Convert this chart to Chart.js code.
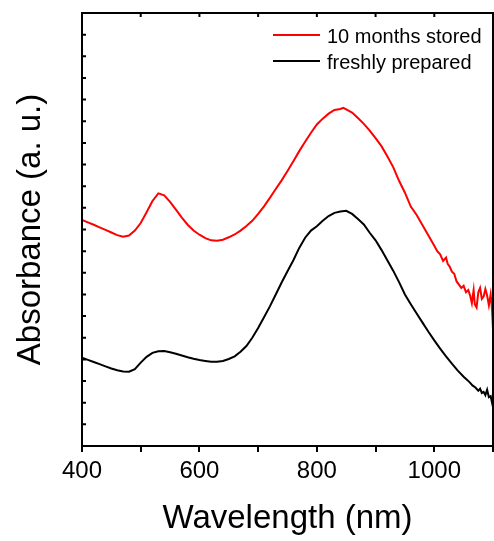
<!DOCTYPE html>
<html>
<head>
<meta charset="utf-8">
<script src="https://cdn.jsdelivr.net/npm/chart.js@4/dist/chart.umd.min.js"></script>
<style>
  html, body { margin: 0; padding: 0; background: #fff; }
  #wrap { width: 494px; height: 541px; }
</style>
</head>
<body>
<div id="wrap"><canvas id="absChart" width="494" height="541"></canvas></div>
<script>
// series labels
var seriesLabels = ['10 months stored', 'freshly prepared'];
var seriesColors = ['#ff0000', '#000000'];

// 10 months stored (red), wavelength in nm / absorbance (a. u.)
var storedWl = [400, 410, 420, 430, 440, 450, 460, 470, 480, 490,
  500, 510, 520, 530, 540, 550, 560, 570, 580, 590,
  600, 610, 620, 630, 640, 650, 660, 670, 680, 690,
  700, 710, 720, 730, 740, 750, 760, 770, 780, 790,
  800, 810, 820, 830, 840, 845, 850, 860, 870, 880, 890,
  900, 910, 920, 930, 940, 950, 960, 970, 980, 990,
  1000, 1005, 1010, 1015, 1020, 1023, 1026, 1030, 1034, 1038,
  1042, 1046, 1050, 1054, 1058, 1061, 1064, 1067, 1069, 1072,
  1075, 1078, 1081, 1084, 1087, 1090, 1093, 1096, 1098, 1100];
var storedAbs = [10.44, 10.33, 10.22, 10.10, 9.98, 9.86, 9.74, 9.67, 9.72, 9.95,
  10.30, 10.80, 11.32, 11.67, 11.58, 11.28, 10.92, 10.55, 10.22, 9.95,
  9.76, 9.60, 9.50, 9.48, 9.53, 9.64, 9.77, 9.95, 10.16, 10.40,
  10.72, 11.07, 11.46, 11.87, 12.27, 12.70, 13.15, 13.62, 14.05, 14.47,
  14.85, 15.12, 15.35, 15.52, 15.57, 15.62, 15.55, 15.40, 15.15, 14.88, 14.57,
  14.22, 13.85, 13.38, 12.88, 12.25, 11.70, 11.06, 10.67, 10.20, 9.72,
  9.25, 9.00, 8.85, 8.55, 8.70, 8.40, 8.30, 8.05, 7.95, 7.60,
  7.45, 7.30, 7.40, 7.10, 7.20, 6.95, 6.60, 7.20, 6.55, 6.40,
  7.10, 7.30, 6.80, 6.90, 7.25, 6.95, 6.50, 7.00, 6.45, 5.40];

// freshly prepared (black)
var freshWl = [400, 410, 420, 430, 440, 450, 460, 470, 480, 490,
  500, 510, 520, 530, 540, 550, 560, 570, 580, 590,
  600, 610, 620, 630, 640, 650, 660, 670, 680, 690,
  700, 710, 720, 730, 740, 750, 760, 770, 780, 790,
  800, 810, 820, 830, 840, 850, 860, 870, 880, 890,
  900, 910, 920, 930, 940, 950, 960, 970, 980, 990,
  1000, 1010, 1020, 1030, 1040, 1050, 1060, 1065, 1070, 1075,
  1078, 1081, 1084, 1087, 1090, 1093, 1096, 1100];
var freshAbs = [4.08, 3.98, 3.88, 3.78, 3.68, 3.58, 3.50, 3.44, 3.43, 3.55,
  3.85, 4.12, 4.30, 4.38, 4.39, 4.33, 4.26, 4.18, 4.10, 4.03,
  3.97, 3.93, 3.89, 3.89, 3.93, 4.02, 4.14, 4.35, 4.62, 5.00,
  5.45, 5.95, 6.45, 7.00, 7.55, 8.07, 8.58, 9.15, 9.62, 9.95,
  10.15, 10.40, 10.62, 10.77, 10.83, 10.86, 10.72, 10.48, 10.23, 9.85,
  9.50, 9.06, 8.58, 8.10, 7.57, 7.00, 6.55, 6.12, 5.70, 5.28,
  4.88, 4.50, 4.14, 3.80, 3.48, 3.20, 2.95, 2.80, 2.70, 2.55,
  2.65, 2.45, 2.50, 2.35, 2.60, 2.25, 2.30, 1.80];

// axis ticks
var xTickLabels = [400, 600, 800, 1000];

function toPoints(xs, ys) {
  var pts = [];
  for (var i = 0; i < xs.length; i++) {
    pts.push({x: xs[i], y: ys[i]});
  }
  return pts;
}

var fontName = '"Liberation Sans", Arial, sans-serif';

// frame, inward ticks and the inset legend
var framePlugin = {
  id: 'frame',
  afterDatasetsDraw: function(chart) {
    var ctx = chart.ctx;
    var a = chart.chartArea;
    var xs = chart.scales.x, ys = chart.scales.y;
    ctx.save();
    ctx.strokeStyle = '#000';
    ctx.lineWidth = 2;
    ctx.strokeRect(a.left, a.top, a.right - a.left, a.bottom - a.top);
    ctx.beginPath();
    ys.ticks.forEach(function(t) {
      var py = ys.getPixelForValue(t.value);
      ctx.moveTo(a.left, py);
      ctx.lineTo(a.left + 4, py);
    });
    xs.ticks.forEach(function(t) {
      var px = xs.getPixelForValue(t.value);
      ctx.moveTo(px, a.top);
      ctx.lineTo(px, a.top + 4);
    });
    ctx.stroke();

    // legend
    ctx.font = '20px ' + fontName;
    ctx.textBaseline = 'alphabetic';
    ctx.textAlign = 'left';
    var x0 = a.right - 220;
    chart.data.datasets.forEach(function(ds, i) {
      var ly = 35 + i * 26;
      ctx.strokeStyle = ds.borderColor;
      ctx.lineWidth = 2;
      ctx.beginPath();
      ctx.moveTo(x0, ly);
      ctx.lineTo(x0 + 47, ly);
      ctx.stroke();
      ctx.fillStyle = '#000';
      ctx.fillText(ds.label, x0 + 54, ly + 7.5);
    });
    ctx.restore();
  }
};

new Chart(document.getElementById('absChart'), {
  type: 'line',
  data: {
    datasets: [{
      label: seriesLabels[0],
      data: toPoints(storedWl, storedAbs),
      borderColor: seriesColors[0],
      borderWidth: 2,
      pointRadius: 0,
      tension: 0
    }, {
      label: seriesLabels[1],
      data: toPoints(freshWl, freshAbs),
      borderColor: seriesColors[1],
      borderWidth: 2,
      pointRadius: 0,
      tension: 0
    }]
  },
  options: {
    responsive: false,
    animation: false,
    devicePixelRatio: 1,
    layout: {padding: {top: 13, right: 1, left: 0, bottom: 0}},
    plugins: {
      legend: {display: false},
      tooltip: {enabled: false}
    },
    scales: {
      x: {
        type: 'linear',
        min: 400,
        max: 1100,
        afterFit: function(s) { s.height = 95; s.paddingRight = 0; },
        ticks: {
          stepSize: 100,
          autoSkip: false,
          maxRotation: 0,
          padding: 5,
          color: '#000',
          font: {family: fontName, size: 24},
          callback: function(v) { return xTickLabels.indexOf(v) >= 0 ? String(v) : ''; }
        },
        grid: {drawOnChartArea: false, drawTicks: true, tickLength: 6, color: '#000', lineWidth: 2},
        border: {display: true, color: '#000', width: 2},
        title: {
          display: true,
          text: 'Wavelength (nm)',
          color: '#000',
          font: {family: fontName, size: 33},
          padding: {top: 0, bottom: 2}
        }
      },
      y: {
        min: 0,
        max: 20,
        afterFit: function(s) { s.width = 82; },
        ticks: {display: false, stepSize: 1},
        grid: {display: false},
        border: {display: true, color: '#000', width: 2},
        title: {
          display: true,
          text: 'Absorbance (a. u.)',
          color: '#000',
          font: {family: fontName, size: 33},
          padding: {top: 11, bottom: 0}
        }
      }
    }
  },
  plugins: [framePlugin]
});
</script>
</body>
</html>
